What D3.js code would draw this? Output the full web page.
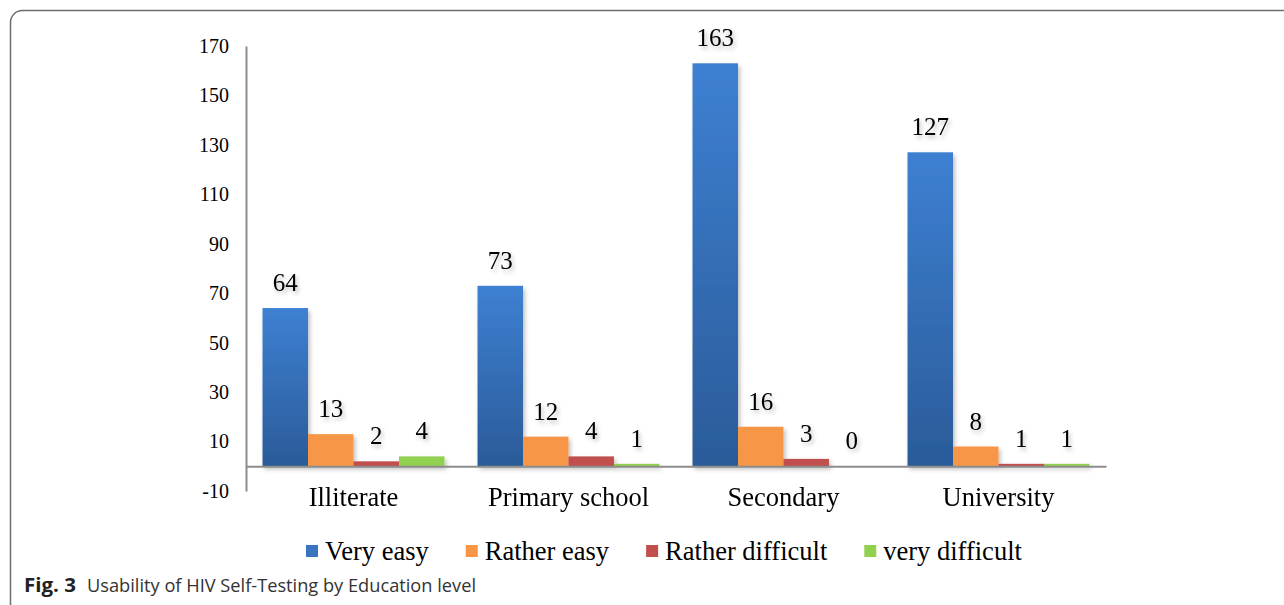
<!DOCTYPE html>
<html>
<head>
<meta charset="utf-8">
<script src="https://cdn.jsdelivr.net/npm/d3@7"></script>
<style>
    body { margin: 0; background: #fff; }
    svg { display: block; }
</style>
</head>
<body>
<div id="visualization"></div>
<script>
//chart data
const categories = ["Illiterate", "Primary school", "Secondary", "University"];
const seriesNames = ["Very easy", "Rather easy", "Rather difficult", "very difficult"];
const veryEasy = [64, 73, 163, 127];
const ratherEasy = [13, 12, 16, 8];
const ratherDifficult = [2, 4, 3, 1];
const veryDifficult = [4, 1, 0, 1];
const yTickValues = [-10, 10, 30, 50, 70, 90, 110, 130, 150, 170];
const captionLabel = "Fig. 3";
const captionText = "Usability of HIV Self-Testing by Education level";

const seriesValues = [veryEasy, ratherEasy, ratherDifficult, veryDifficult];
const seriesColors = ["url(#blueGrad)", "#f79646", "#c0504d", "#92d050"];
const legendColors = ["#3a74c0", "#f79646", "#c0504d", "#92d050"];

const serifFont = "'Liberation Serif', 'Times New Roman', serif";

/** draws the grouped bar chart */
class BarChart {
    constructor(parentId) {
        this.width = 1284;
        this.height = 605;
        //plot area
        this.plot = { left: 246, right: 1106, top: 46, bottom: 491 };

        this.svg = d3.select(`#${parentId}`)
            .append("svg")
                .attr("width", this.width)
                .attr("height", this.height);

        this.initDefs();
        this.drawFrame();
        this.drawChart();
        this.drawLegend();
        this.drawCaption();
    }

    /** gradient and shadow */
    initDefs() {
        const defs = this.svg.append("defs");

        const grad = defs.append("linearGradient")
            .attr("id", "blueGrad")
            .attr("x1", 0).attr("y1", 0)
            .attr("x2", 0).attr("y2", 1);
        grad.append("stop").attr("offset", "0%").attr("stop-color", "#3d80d2");
        grad.append("stop").attr("offset", "100%").attr("stop-color", "#2b5b99");

        const shadow = defs.append("filter")
            .attr("id", "shadow")
            .attr("x", "-10%").attr("y", "-10%")
            .attr("width", "130%").attr("height", "130%");
        shadow.append("feDropShadow")
            .attr("dx", 2).attr("dy", 3)
            .attr("stdDeviation", 2)
            .attr("flood-color", "#000")
            .attr("flood-opacity", 0.25);
    }

    /** rounded figure frame */
    drawFrame() {
        this.svg.append("rect")
            .attr("x", 10.5)
            .attr("y", 10.5)
            .attr("width", 1320)
            .attr("height", 606)
            .attr("rx", 12)
            .attr("fill", "none")
            .attr("stroke", "#6e6e6e")
            .attr("stroke-width", 1.5);
    }

    drawChart() {
        const p = this.plot;

        //scales
        this.y = d3.scaleLinear()
            .domain([-10, 170])
            .range([p.bottom, p.top]);

        this.x = d3.scaleBand()
            .domain(categories)
            .range([p.left, p.right]);

        this.xInner = d3.scaleBand()
            .domain(seriesNames)
            .range([0, this.x.bandwidth()])
            .paddingOuter(0.363);

        const y0 = this.y(0);

        //y axis
        const yAxis = this.svg.append("g")
            .attr("transform", `translate(${p.left}, 0)`)
            .call(d3.axisLeft(this.y)
                .tickValues(yTickValues)
                .tickFormat(d => String(d))
                .tickSize(0)
                .tickPadding(17));
        yAxis.select(".domain")
            .attr("stroke", "#8c8c8c")
            .attr("stroke-width", 2);
        yAxis.selectAll("text")
            .attr("font-family", serifFont)
            .attr("font-size", 20)
            .attr("fill", "#000");

        //bars
        const groups = this.svg.append("g")
            .attr("filter", "url(#shadow)")
            .selectAll("g")
            .data(categories)
            .join("g")
                .attr("transform", d => `translate(${this.x(d)}, 0)`);

        groups.selectAll("rect")
            .data((d, i) => seriesNames.map((s, j) => ({ s, v: seriesValues[j][i], c: seriesColors[j] })))
            .join("rect")
                .attr("x", d => this.xInner(d.s))
                .attr("width", this.xInner.bandwidth())
                .attr("y", d => this.y(d.v))
                .attr("height", d => y0 - this.y(d.v))
                .attr("fill", d => d.c);

        //x axis baseline
        const xAxis = this.svg.append("g")
            .attr("transform", `translate(0, ${y0})`)
            .call(d3.axisBottom(this.x)
                .tickSize(0)
                .tickSizeOuter(0)
                .tickPadding(21));
        xAxis.select(".domain")
            .attr("stroke", "#8c8c8c")
            .attr("stroke-width", 2);
        xAxis.selectAll("text")
            .attr("font-family", serifFont)
            .attr("font-size", 26.5)
            .attr("fill", "#000");

        //value labels
        groups.selectAll("text.value")
            .data((d, i) => seriesNames.map((s, j) => ({ s, v: seriesValues[j][i] })))
            .join("text")
                .attr("class", "value")
                .attr("x", d => this.xInner(d.s) + this.xInner.bandwidth() / 2)
                .attr("y", d => this.y(d.v) - 17)
                .attr("text-anchor", "middle")
                .attr("font-family", serifFont)
                .attr("font-size", 25)
                .attr("fill", "#000")
                .text(d => d.v);
    }

    drawLegend() {
        const legend = this.svg.append("g")
            .attr("transform", "translate(306, 551)");

        let cx = 0;
        seriesNames.forEach((name, i) => {
            legend.append("rect")
                .attr("x", cx)
                .attr("y", -6)
                .attr("width", 12)
                .attr("height", 12)
                .attr("fill", legendColors[i]);

            const t = legend.append("text")
                .attr("x", cx + 19)
                .attr("y", 9)
                .attr("font-family", serifFont)
                .attr("font-size", 26.5)
                .attr("fill", "#000")
                .text(name);

            cx += 19 + t.node().getComputedTextLength() + 37;
        });
    }

    drawCaption() {
        //figure label, bold
        this.svg.append("text")
            .attr("x", 24)
            .attr("y", 592)
            .attr("font-family", "'Open Sans', sans-serif")
            .attr("font-size", 19)
            .attr("font-weight", "bold")
            .attr("fill", "#222")
            .attr("textLength", 52)
            .attr("lengthAdjust", "spacingAndGlyphs")
            .text(captionLabel);

        //caption text
        this.svg.append("text")
            .attr("x", 87)
            .attr("y", 592)
            .attr("font-family", "'Open Sans', sans-serif")
            .attr("font-size", 19)
            .attr("fill", "#333")
            .attr("textLength", 389)
            .attr("lengthAdjust", "spacingAndGlyphs")
            .text(captionText);
    }
}

new BarChart("visualization");
</script>
</body>
</html>
